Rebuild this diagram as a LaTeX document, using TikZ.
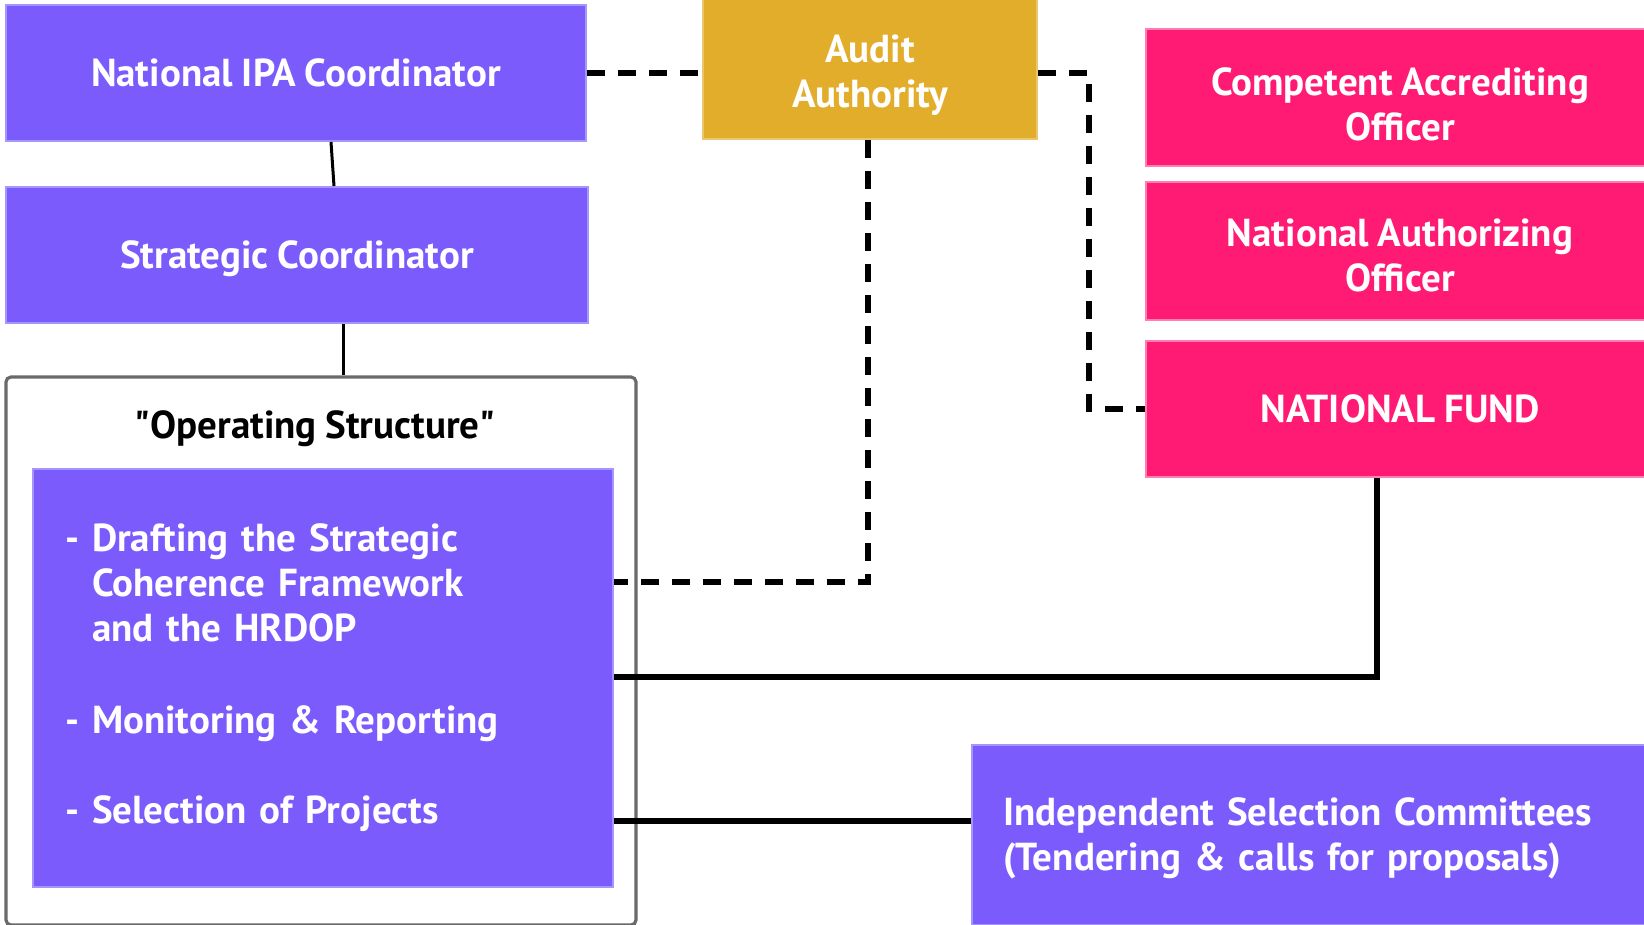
\documentclass[tikz,border=0pt]{standalone}
\usepackage{fontspec}
\setmainfont{PT Sans}[WordSpace=0.9]
\usetikzlibrary{calc}
\definecolor{ipurple}{HTML}{7B5BFC}
\definecolor{ipurpleedge}{HTML}{A595FF}
\definecolor{igold}{HTML}{E2AD2A}
\definecolor{igoldedge}{HTML}{EBC66E}
\definecolor{ipink}{HTML}{FF1B74}
\definecolor{ipinkedge}{HTML}{FF7FB2}
\definecolor{iframe}{HTML}{6A6A6A}
\newcommand\shtext[2]{\raisebox{#1}[\height][\depth]{\begin{tabular}{@{}c@{}}#2\end{tabular}}}
\newcommand\shtextl[2]{\raisebox{#1}[\height][\depth]{\begin{tabular}{@{}l@{}}#2\end{tabular}}}
\begin{document}
\begin{tikzpicture}[x=0.5pt,y=-0.5pt,
  box/.style={rectangle, inner sep=0pt, align=center, text=white,
    font=\bfseries\fontsize{19.5}{22.5}\selectfont, line width=1pt},
  pbox/.style={box, fill=ipurple, draw=ipurpleedge},
  gbox/.style={box, fill=igold, draw=igoldedge},
  kbox/.style={box, fill=ipink, draw=ipinkedge},
  framebox/.style={rectangle, draw=iframe, line width=1.6pt, rounded corners=2.5pt, inner sep=0pt},
  dashline/.style={line width=2.75pt, dash pattern=on 9pt off 6.5pt, black},
  thinline/.style={line width=1.5pt, black},
  midline/.style={line width=2.6pt, black},
  thickline/.style={line width=3.4pt, black}]
\useasboundingbox (0,0) rectangle (1644,925);

% operating structure frame
\node[framebox, minimum width=315pt, minimum height=274pt] (os) at (321,651) {};
\node[font=\bfseries\fontsize{19.5}{22.5}\selectfont, text=black, inner sep=0pt] (oslabel) at (315,429) {\textquotedbl Operating Structure\textquotedbl};

% boxes
\node[pbox, minimum width=290pt, minimum height=68pt] (nipa) at (296,73) {National IPA Coordinator};
\node[pbox, minimum width=291pt, minimum height=68pt] (sc) at (297,255) {\shtext{-2.5pt}{Strategic Coordinator}};
\node[gbox, minimum width=167pt, minimum height=70pt] (audit) at (870,69) {\shtext{-3.6pt}{Audit\\Authority}};
\node[kbox, minimum width=254pt, minimum height=68.5pt] (cao) at (1400,97.5) {\shtext{-5.6pt}{Competent Accrediting\\Officer}};
\node[kbox, minimum width=254pt, minimum height=69pt] (nao) at (1400,251) {\shtext{-4.4pt}{National Authorizing\\Officer}};
\node[kbox, minimum width=254pt, minimum height=68pt] (nf) at (1400,409) {NATIONAL FUND};
\node[pbox, minimum width=290pt, minimum height=209pt, text width=258pt, align=left, inner xsep=16pt] (inner) at (323,678)
  {- Drafting the Strategic\\
   \phantom{- }Coherence Framework\\
   \phantom{- }and the HRDOP\\[23.5pt]
   - Monitoring \& Reporting\\[22.5pt]
   - Selection of Projects};
\node[pbox, minimum width=339pt, minimum height=90pt, text width=308pt, align=left, inner xsep=15.5pt] (isc) at (1311,835)
  {\shtextl{-2pt}{Independent Selection Committees\\(Tendering \& calls for proposals)}};

% helper coordinates
\coordinate (c1) at (1089,73);
\coordinate (c2) at (868,582);
\coordinate (c3) at (1377,677);
\coordinate (c4) at (972,821);

% solid connectors
\draw[thinline] (nipa.south -| 331,0) -- (sc.north -| 334,0);
\draw[thinline] (sc.south -| 343,0) -- (os.north -| 343,0);
\draw[midline] (inner.east |- c3) -- (c3) -- (c3 |- nf.south);
\draw[thickline] (inner.east |- c4) -- (isc.west |- c4);

% dashed connectors
\draw[dashline] (nipa.east) -- (nipa.east -| audit.west);
\draw[dashline] (audit.east |- c1) -- (c1) |- (nf.west);
\draw[dashline] (audit.south -| c2) -- (c2) -- (c2 -| inner.east);
\end{tikzpicture}
\end{document}
